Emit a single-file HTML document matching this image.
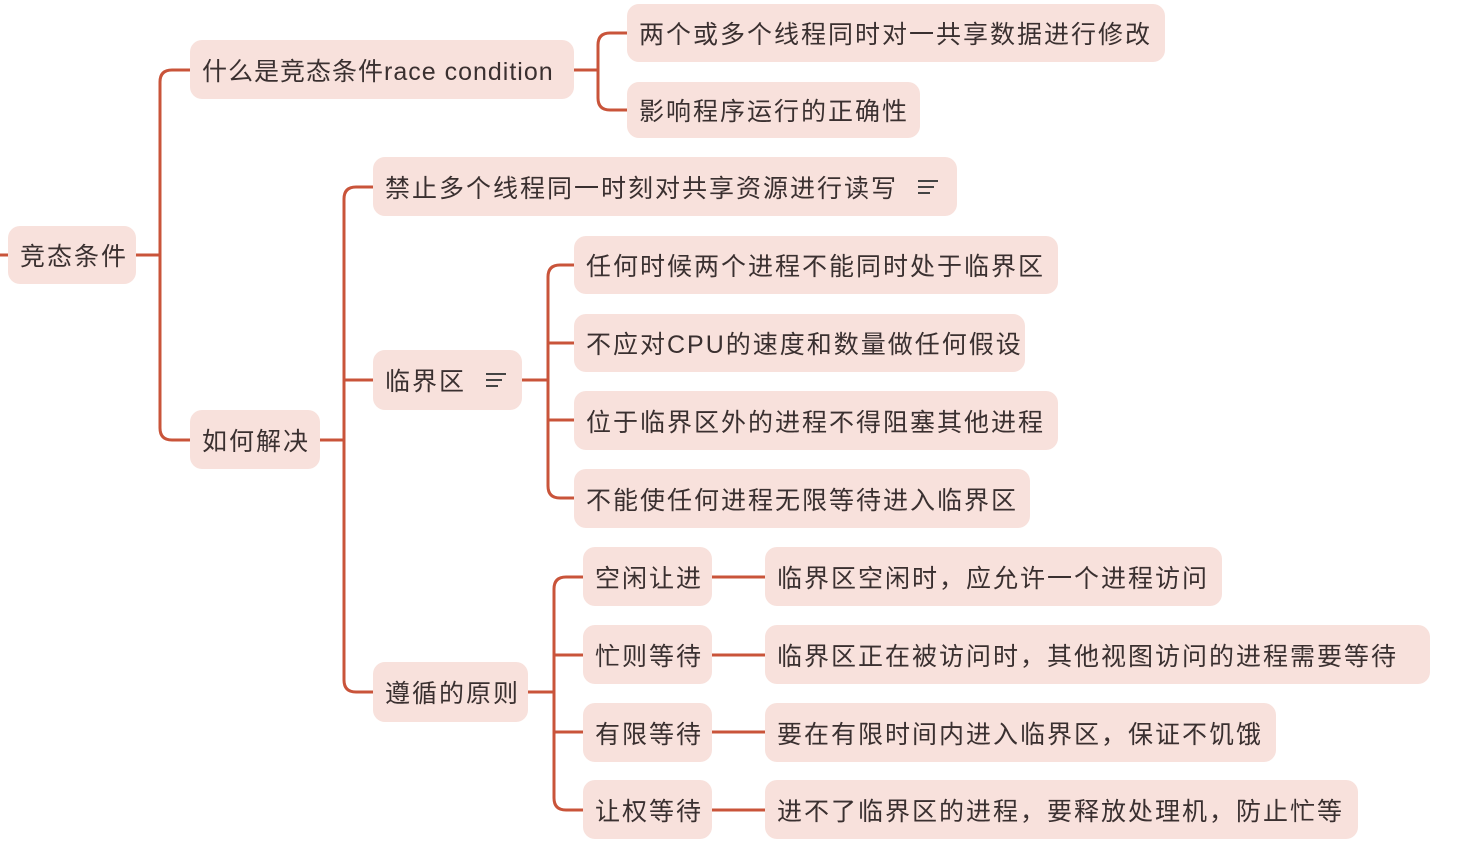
<!DOCTYPE html>
<html><head><meta charset="utf-8"><style>
body{margin:0;width:1467px;height:851px;background:#fff;position:relative;overflow:hidden;font-family:"Liberation Sans","Noto Sans CJK SC",sans-serif;}
.n{position:absolute;background:#f8e1dc;border-radius:12px;color:#3a3030;font-size:25px;letter-spacing:2px;box-sizing:border-box;padding-left:12px;display:flex;align-items:center;white-space:nowrap;}
.ic{display:inline-block;width:20px;margin-left:20px;vertical-align:middle}
.ic i{display:block;height:2px;background:#444;margin:4px 0}
svg{position:absolute;left:0;top:0}
</style></head><body>
<svg width="1467" height="851" fill="none" stroke="#c9543a" stroke-width="3">
<path d="M0 255H8"/>
<path d="M136 255H160"/>
<path d="M190 70H172Q160 70 160 82V428Q160 440 172 440H190"/>
<path d="M574 70H598"/>
<path d="M627 33H610Q598 33 598 45V98Q598 110 610 110H627"/>
<path d="M320 440H344"/>
<path d="M373 187H356Q344 187 344 199V680Q344 692 356 692H373"/>
<path d="M344 380H373"/>
<path d="M522 380H548"/>
<path d="M574 265H560Q548 265 548 277V486Q548 498 560 498H574"/>
<path d="M548 343H574M548 420H574"/>
<path d="M528 692H554"/>
<path d="M583 577H566Q554 577 554 589V798Q554 810 566 810H583"/>
<path d="M554 655H583M554 732H583"/>
<path d="M712 577H765M712 655H765M712 732H765M712 810H765"/>
</svg>
<div class="n" style="left:8px;top:226px;width:128px;height:58px">竞态条件</div>
<div class="n" style="left:190px;top:40px;width:384px;height:59px;letter-spacing:1px">什么是竞态条件race condition</div>
<div class="n" style="left:627px;top:4px;width:538px;height:58px">两个或多个线程同时对一共享数据进行修改</div>
<div class="n" style="left:627px;top:82px;width:293px;height:56px">影响程序运行的正确性</div>
<div class="n" style="left:190px;top:410px;width:130px;height:59px">如何解决</div>
<div class="n" style="left:373px;top:157px;width:584px;height:59px">禁止多个线程同一时刻对共享资源进行读写<span class="ic"><i></i><i style="width:16px"></i><i style="width:12px"></i></span></div>
<div class="n" style="left:373px;top:350px;width:149px;height:60px">临界区<span class="ic"><i></i><i style="width:16px"></i><i style="width:12px"></i></span></div>
<div class="n" style="left:574px;top:236px;width:484px;height:58px">任何时候两个进程不能同时处于临界区</div>
<div class="n" style="left:574px;top:314px;width:451px;height:58px">不应对CPU的速度和数量做任何假设</div>
<div class="n" style="left:574px;top:391px;width:484px;height:59px">位于临界区外的进程不得阻塞其他进程</div>
<div class="n" style="left:574px;top:469px;width:456px;height:59px">不能使任何进程无限等待进入临界区</div>
<div class="n" style="left:373px;top:662px;width:155px;height:60px">遵循的原则</div>
<div class="n" style="left:583px;top:547px;width:129px;height:59px">空闲让进</div>
<div class="n" style="left:583px;top:625px;width:129px;height:59px">忙则等待</div>
<div class="n" style="left:583px;top:703px;width:129px;height:59px">有限等待</div>
<div class="n" style="left:583px;top:780px;width:129px;height:59px">让权等待</div>
<div class="n" style="left:765px;top:547px;width:457px;height:59px">临界区空闲时，应允许一个进程访问</div>
<div class="n" style="left:765px;top:625px;width:665px;height:59px">临界区正在被访问时，其他视图访问的进程需要等待</div>
<div class="n" style="left:765px;top:703px;width:511px;height:59px">要在有限时间内进入临界区，保证不饥饿</div>
<div class="n" style="left:765px;top:780px;width:593px;height:59px">进不了临界区的进程，要释放处理机，防止忙等</div>
</body></html>
